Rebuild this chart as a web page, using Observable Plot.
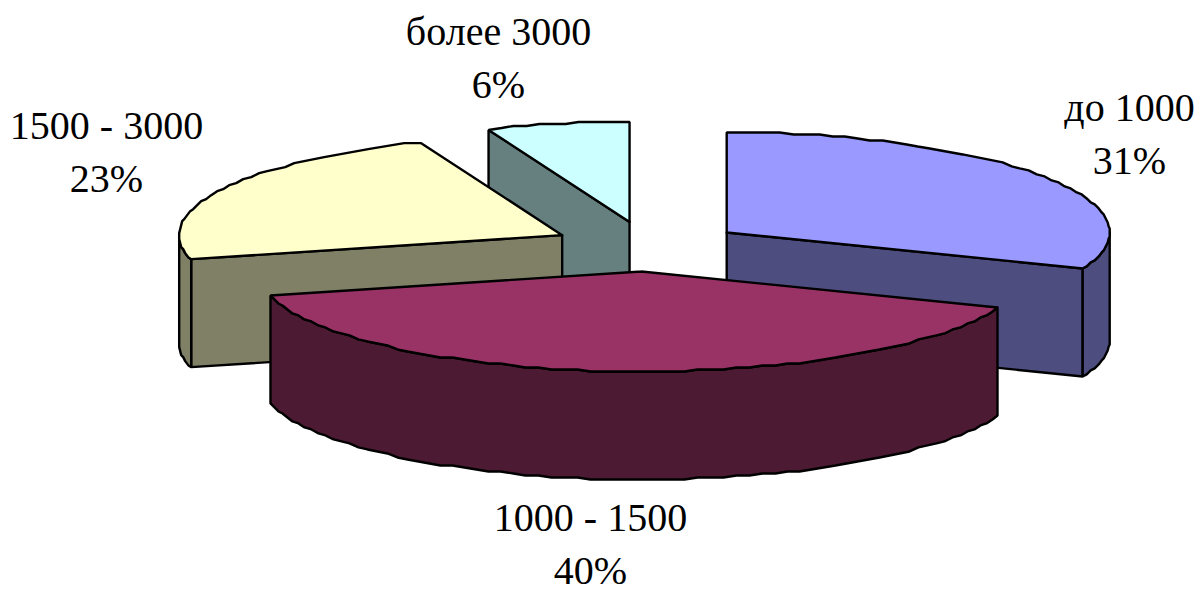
<!DOCTYPE html>
<html>
<head>
<meta charset="utf-8">
<script src="https://cdn.jsdelivr.net/npm/d3@7"></script>
<script src="https://cdn.jsdelivr.net/npm/@observablehq/plot@0.6"></script>
<style>
  html, body { margin: 0; padding: 0; background: #fff; }
  svg { display: block; }
</style>
</head>
<body>
<div id="chart"></div>
<script>
// Income bands and their shares, clockwise from twelve o'clock
const categories = ["до 1000", "1000 - 1500", "1500 - 3000", "более 3000"];
const shares = [31, 40, 23, 6];
const topColors = ["#9999FF", "#993366", "#FFFFCC", "#CCFFFF"];

// Back-to-front painting order of the slices
const paintOrder = [3, 2, 0, 1];

// Label centres in chart units
const labelX = [1129, 590, 106, 498];
const labelY = [130, 540, 148, 54];

// Pie geometry in chart units
const W = 1200, H = 589;
const cx = 647, cy = 246, rx = 383, ry = 100, depth = 108, explode = 0.25;
const snapX = 1, snapY = 2, sampleStep = 2;

const rad = (deg) => (deg * Math.PI) / 180;
const quant = (v, q) => Math.round(v / q) * q;

// Half-brightness colour for the walls
const shade = (c) => {
  const { r, g, b } = d3.rgb(c);
  return d3.rgb(r / 2, g / 2, b / 2).formatHex();
};

// Slice angles accumulated from the shares
let running = 0;
const slices = shares.map((share, i) => {
  const a0 = (running / 100) * 360;
  running += share;
  const a1 = (running / 100) * 360;
  const mid = (a0 + a1) / 2;
  return {
    i, a0, a1, mid,
    ox: cx + explode * rx * Math.sin(rad(mid)),
    oy: cy - explode * ry * Math.cos(rad(mid))
  };
});

const rim = (s, a, drop = 0) => ({
  x: s.ox + quant(rx * Math.sin(rad(a)), snapX),
  y: s.oy - quant(ry * Math.cos(rad(a)), snapY) + drop
});
const arc = (s, a0, a1, drop = 0) => {
  const pts = [];
  for (let a = a0; a < a1; a += sampleStep) pts.push(rim(s, a, drop));
  pts.push(rim(s, a1, drop));
  return pts;
};

// A cut face shows when the slice body lies above its edge on screen
const faceShows = (s, a) => {
  const sn = Math.sin(rad(a)), cs = Math.cos(rad(a));
  if (Math.abs(sn) < 1e-6) return false;
  return Math.cos(rad(s.mid)) - (cs / sn) * Math.sin(rad(s.mid)) > 0;
};

// Every polygon becomes a closed run of vertices for one line series
const vertices = [];
let id = 0;
const addPolygon = (pts, fill) => {
  const key = id++;
  [...pts, pts[0]].forEach((p) => vertices.push({ ...p, key, fill }));
};

for (const index of paintOrder) {
  const s = slices[index];
  const top = topColors[s.i];
  const wall = shade(top);
  for (const a of [s.a0, s.a1]) {
    if (faceShows(s, a)) {
      const p = rim(s, a), q = rim(s, a, depth);
      addPolygon([{ x: s.ox, y: s.oy }, p, q, { x: s.ox, y: s.oy + depth }], wall);
    }
  }
  const w0 = Math.max(s.a0, 90), w1 = Math.min(s.a1, 270);
  if (w0 < w1) {
    addPolygon([...arc(s, w0, w1), ...arc(s, w0, w1, depth).reverse()], wall);
  }
  addPolygon([{ x: s.ox, y: s.oy }, ...arc(s, s.a0, s.a1)], top);
}

const labels = categories.map((name, i) => ({
  x: labelX[i], y: labelY[i], text: `${name}\n${shares[i]}%`
}));

const chart = Plot.plot({
  width: W,
  height: H,
  margin: 0,
  x: { domain: [0, W], axis: null },
  y: { domain: [H, 0], axis: null },
  style: { background: "#fff", fontFamily: "'Liberation Serif', serif" },
  marks: [
    Plot.line(vertices, {
      x: "x", y: "y", z: "key", fill: "fill",
      stroke: "#000", strokeWidth: 2.4, strokeLinejoin: "miter"
    }),
    Plot.text(labels, {
      x: "x", y: "y", text: "text",
      fontSize: 40, lineHeight: 1.33, fill: "#000",
      fontFamily: "'Liberation Serif', serif"
    })
  ]
});
document.getElementById("chart").appendChild(chart);
</script>
</body>
</html>
